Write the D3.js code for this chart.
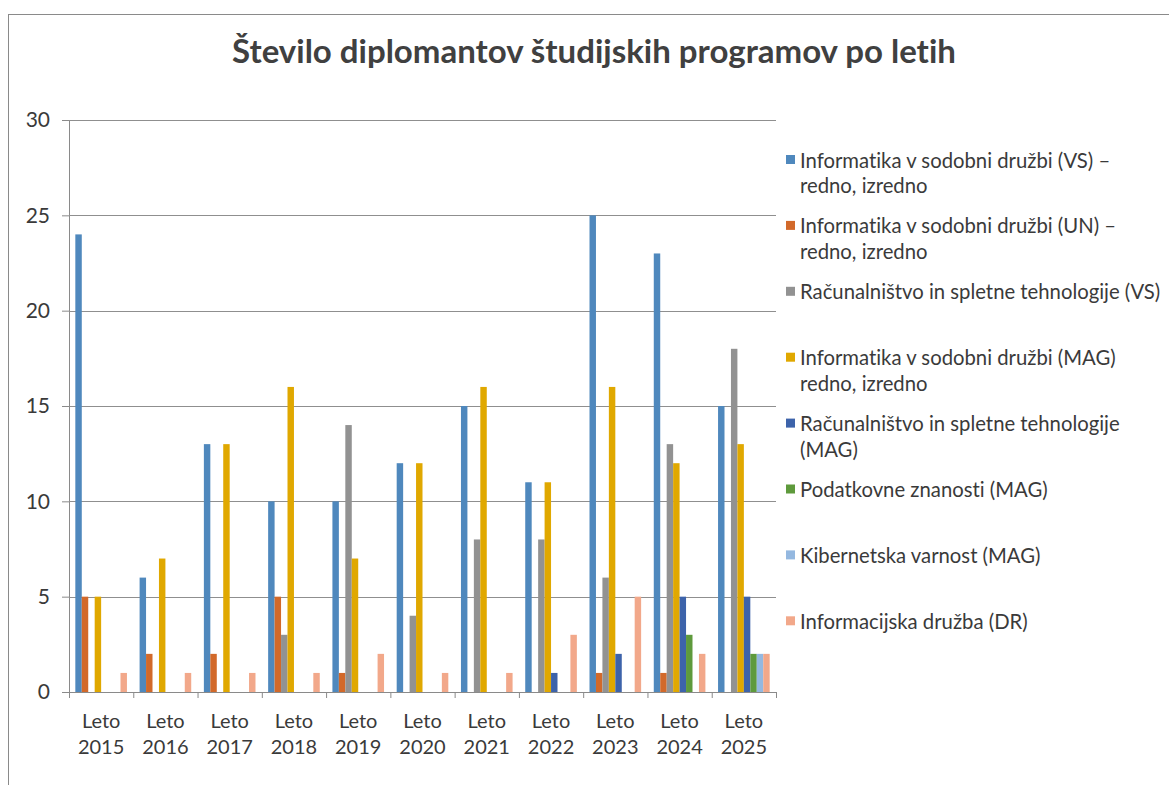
<!DOCTYPE html>
<html>
<head>
<meta charset="utf-8">
<script src="https://cdn.jsdelivr.net/npm/d3@7"></script>
<style>
    body { margin: 0; background: #fff; }
    svg { display: block; font-family: Lato, "Open Sans", sans-serif; font-variant-ligatures: none; }
    .axis text { fill: #3a3a3a; }
    .legend text { fill: #3a3a3a; font-size: 20.3px; }
</style>
</head>
<body>
<div id="chart"></div>
<script>
// Število diplomantov po letih — grouped bar chart, 8 programmes x 11 years.

const WIDTH = 1169;
const HEIGHT = 785;
const PLOT = { left: 69, right: 776, top: 120, bottom: 692 };

const YEARS = ["2015", "2016", "2017", "2018", "2019", "2020", "2021", "2022", "2023", "2024", "2025"];
const Y_TICKS = [0, 5, 10, 15, 20, 25, 30];

const SERIES_KEYS = ["vs", "un", "ristVs", "mag", "ristMag", "pz", "kv", "dr"];

const SERIES_LABELS = [
    ["Informatika v sodobni družbi (VS) –", "redno, izredno"],
    ["Informatika v sodobni družbi (UN) –", "redno, izredno"],
    ["Računalništvo in spletne tehnologije (VS)"],
    ["Informatika v sodobni družbi (MAG)", "redno, izredno"],
    ["Računalništvo in spletne tehnologije", "(MAG)"],
    ["Podatkovne znanosti (MAG)"],
    ["Kibernetska varnost (MAG)"],
    ["Informacijska družba (DR)"],
];

const SERIES_COLORS = ["#4f88bd", "#d2692a", "#929292", "#e0a800", "#3d63aa", "#5e9a3c", "#94b8e0", "#f2a88a"];

// values per series, one per year
const VS       = [24, 6, 13, 10, 10, 12, 15, 11, 25, 23, 15];
const UN       = [5, 2, 2, 5, 1, 0, 0, 0, 1, 1, 0];
const RIST_VS  = [0, 0, 0, 3, 14, 4, 8, 8, 6, 13, 18];
const MAG      = [5, 7, 13, 16, 7, 12, 16, 11, 16, 12, 13];
const RIST_MAG = [0, 0, 0, 0, 0, 0, 0, 1, 2, 5, 5];
const PZ       = [0, 0, 0, 0, 0, 0, 0, 0, 0, 3, 2];
const KV       = [0, 0, 0, 0, 0, 0, 0, 0, 0, 0, 2];
const DR       = [1, 1, 1, 1, 2, 1, 1, 3, 5, 2, 2];

const SERIES_VALUES = [VS, UN, RIST_VS, MAG, RIST_MAG, PZ, KV, DR];

const data = YEARS.map((yr, i) => {
    const row = { year: yr };
    SERIES_KEYS.forEach((k, j) => { row[k] = SERIES_VALUES[j][i]; });
    return row;
});

const svg = d3.select("#chart")
    .append("svg")
    .attr("width", WIDTH)
    .attr("height", HEIGHT);

// chart frame (runs off the right/bottom like the source screenshot)
svg.append("rect")
    .attr("x", 8.5).attr("y", 14.5)
    .attr("width", WIDTH + 20).attr("height", HEIGHT + 20)
    .attr("fill", "#fff")
    .attr("stroke", "#8a8a8a");

// Title
svg.append("text")
    .attr("x", 594).attr("y", 63)
    .attr("text-anchor", "middle")
    .attr("font-size", 33)
    .attr("font-weight", "bold")
    .attr("fill", "#404040")
    .text("Število diplomantov študijskih programov po letih");

// Scales
const x0 = d3.scaleBand()
    .domain(YEARS)
    .range([PLOT.left, PLOT.right])
    .paddingInner(0)
    .paddingOuter(0);

const x1 = d3.scaleBand()
    .domain(SERIES_KEYS)
    .range([0, x0.bandwidth()])
    .paddingInner(0)
    .paddingOuter(0.98);

const y = d3.scaleLinear()
    .domain([0, 30])
    .range([PLOT.bottom, PLOT.top]);

// y axis
const yAxis = svg.append("g")
    .attr("class", "axis")
    .attr("transform", `translate(${PLOT.left},0)`)
    .call(
        d3.axisLeft(y)
            .tickValues(Y_TICKS)
            .tickSize(7)
            .tickPadding(12),
    );
yAxis.select(".domain").attr("stroke", "#8a8a8a");
yAxis.selectAll(".tick line").attr("stroke", "#8a8a8a");
yAxis.selectAll(".tick text").attr("font-size", 21).attr("font-family", "Lato, sans-serif");

// gridlines
svg.append("g")
    .selectAll("line")
    .data(Y_TICKS.filter((t) => t > 0))
    .join("line")
    .attr("x1", PLOT.left).attr("x2", PLOT.right)
    .attr("y1", (d) => Math.round(y(d)) + 0.5)
    .attr("y2", (d) => Math.round(y(d)) + 0.5)
    .attr("stroke", "#8f8f8f")
    .attr("stroke-width", 1);

// Bars
const groups = svg.append("g")
    .selectAll("g")
    .data(data)
    .join("g")
    .attr("transform", (d) => `translate(${x0(d.year)},0)`);

groups.selectAll("rect")
    .data((d) => SERIES_KEYS.map((k, j) => ({ key: k, j, value: d[k] })))
    .join("rect")
    .filter((d) => d.value > 0)
    .attr("x", (d) => x1(d.key))
    .attr("y", (d) => y(d.value))
    .attr("width", x1.bandwidth())
    .attr("height", (d) => y(0) - y(d.value))
    .attr("fill", (d) => SERIES_COLORS[d.j]);

// X axis with category boundary ticks
const xAxisG = svg.append("g")
    .attr("class", "axis");
xAxisG.append("line")
    .attr("x1", PLOT.left).attr("x2", PLOT.right)
    .attr("y1", PLOT.bottom + 0.5).attr("y2", PLOT.bottom + 0.5)
    .attr("stroke", "#8a8a8a");
xAxisG.selectAll("line.tick")
    .data(YEARS.concat(["end"]))
    .join("line")
    .attr("class", "tick")
    .attr("x1", (d, i) => (i < YEARS.length ? x0(d) : PLOT.right) + 0.5)
    .attr("x2", (d, i) => (i < YEARS.length ? x0(d) : PLOT.right) + 0.5)
    .attr("y1", PLOT.bottom).attr("y2", PLOT.bottom + 6)
    .attr("stroke", "#8a8a8a");

const xLabels = xAxisG.selectAll("text")
    .data(YEARS)
    .join("text")
    .attr("x", (d) => x0(d) + x0.bandwidth() / 2)
    .attr("y", 728)
    .attr("text-anchor", "middle")
    .attr("font-size", 20);
xLabels.append("tspan").attr("x", (d) => x0(d) + x0.bandwidth() / 2).text("Leto");
xLabels.append("tspan").attr("x", (d) => x0(d) + x0.bandwidth() / 2).attr("dy", 26).text((d) => d);

// Legend
const LEGEND_Y0 = 160;
const LEGEND_STEP = 65.9;
const legend = svg.append("g").attr("class", "legend");
SERIES_LABELS.forEach((lines, j) => {
    const cy = LEGEND_Y0 + j * LEGEND_STEP;
    legend.append("rect")
        .attr("x", 786).attr("y", cy - 5)
        .attr("width", 9).attr("height", 9)
        .attr("fill", SERIES_COLORS[j]);
    const t = legend.append("text")
        .attr("x", 800).attr("y", cy + 7.5);
    lines.forEach((ln, k) => {
        t.append("tspan").attr("x", 800).attr("dy", k === 0 ? 0 : 25.5).text(ln);
    });
});
</script>
</body>
</html>
